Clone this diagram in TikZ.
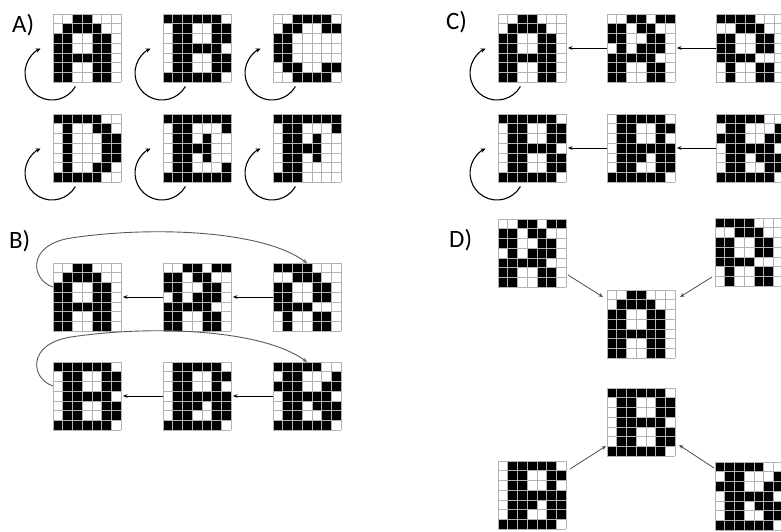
\documentclass[tikz,border=0pt]{standalone}
\usepackage{fontspec}
\setmainfont{Carlito}
\usetikzlibrary{arrows.meta}

% black cells of each glyph, one group per row (top to bottom)
\def\letterA{{2,3},{1,2,3,4},{0,1,4,5},{0,1,4,5},{0,1,2,3,4,5},{0,1,4,5},{0,1,4,5}}
\def\letterB{{0,1,2,3,4,5},{1,2,5,6},{1,2,5,6},{1,2,3,4,5},{1,2,5,6},{1,2,5,6},{0,1,2,3,4,5}}
\def\letterC{{2,3,4,5},{1,2,5,6},{0,1},{0,1},{0,1},{1,2,5,6},{2,3,4,5}}
\def\letterD{{0,1,2,3,4},{1,4,5},{1,5,6},{1,5,6},{1,5,6},{1,4,5},{0,1,2,3,4}}
\def\letterE{{0,1,2,3,4,5,6},{1,2,6},{1,2,4},{1,2,3,4},{1,2,4},{1,2,6},{0,1,2,3,4,5,6}}
\def\letterF{{0,1,2,3,4,5,6},{1,2,6},{1,2,4},{1,2,3,4},{1,2,4},{1,2},{0,1,2}}
\def\noisyA{{2,3,5,6},{0,1,3,4},{0,1,4,5},{1,3,4,5},{0,1,2,3,4},{0,1,4,5},{0,1,4,5}}
\def\noisyR{{0,1,2,3},{2,3,4},{0,1,4,5},{0,1,4,5},{0,1,2,3},{1,4,5},{1,4,5}}
\def\noisyB{{1,2,3,4,5},{1,2,5,6},{1,2,5},{1,2,3,4,5,6},{1,2,3,5,6},{1,2,5,6},{0,1,2,3,4,5}}
\def\noisyBB{{0,1,2,3,4},{1,2,6},{0,1,2,5,6},{1,2,3,4,5},{1,2,4,5,6},{1,2,5,6},{0,1,2,3,4,5}}

\newcommand{\pixw}{9.714}
% name, left, top, pattern
\newcommand{\pixgrid}[4]{%
  \node[glyph] (#1) at ({#2+34},{-#3-34}) {};
  \begin{scope}[shift={(#1.north west)}]
    \foreach \cols [count=\row from 0] in #4 {
      \foreach \col in \cols
        \fill (\col*\pixw,-\row*\pixw) rectangle ++(\pixw,-\pixw);
    }
    \foreach \i in {0,1,2,3,4,5,6,7} {
      \draw[gridline] (\i*\pixw,0) -- (\i*\pixw,-68);
      \draw[gridline] (0,-\i*\pixw) -- (68,-\i*\pixw);
    }
  \end{scope}
}
\newcommand{\selfloop}[1]{%
  \draw[selfarc] ([xshift=22.4bp,yshift=-4.5bp]#1.south west)
    arc[start angle=-30, end angle=-245, radius=27bp];
}

\begin{document}
\begin{tikzpicture}[
  x=1bp, y=1bp,
  glyph/.style={minimum size=68bp, inner sep=0pt, outer sep=0pt},
  gridline/.style={draw=black!30, line width=0.7bp},
  panel/.style={anchor=west, inner sep=0pt, font=\fontsize{25}{30}\selectfont},
  selfarc/.style={-{Stealth[length=5bp, width=4.5bp]}, line width=1.1bp},
  link/.style={-{Stealth[length=4.5bp, width=3.8bp]}, line width=0.8bp, shorten >=2bp},
  bigarc/.style={-{Stealth[length=4.5bp, width=3.8bp]}, line width=0.9bp, black!65},
  slant/.style={-{Stealth[length=4.5bp, width=3.8bp]}, line width=0.8bp, black!70},
]
  \useasboundingbox (0,0) rectangle (781,-532);

  % -- A) letters that recall themselves --
  \node[panel] (labA) at (12,-25) {A)};
  \pixgrid{aA}{53}{14}{\letterA}
  \pixgrid{aB}{163}{14}{\letterB}
  \pixgrid{aC}{273}{14}{\letterC}
  \pixgrid{aD}{53}{114}{\letterD}
  \pixgrid{aE}{163}{114}{\letterE}
  \pixgrid{aF}{273}{114}{\letterF}
  \foreach \g in {aA,aB,aC,aD,aE,aF} {
    \selfloop{\g}
  }

  % -- B) chains that close on the noisy input --
  \node[panel] (labB) at (9,-241) {B)};
  \pixgrid{bA}{53}{263}{\letterA}
  \pixgrid{bAn}{163}{263}{\noisyA}
  \pixgrid{bRn}{273}{263}{\noisyR}
  \pixgrid{bB}{53}{362}{\letterB}
  \pixgrid{bBn}{163}{362}{\noisyB}
  \pixgrid{bBr}{273}{362}{\noisyBB}

  \draw[link] (bAn.west) -- (bA.east);
  \draw[link] (bRn.west) -- (bAn.east);
  \draw[link] (bBn.west) -- (bB.east);
  \draw[link] (bBr.west) -- (bBn.east);
  \draw[bigarc] ([yshift=10bp]bA.west) .. controls +(-22,7) and +(-45,-7) .. ++(18,49)
    .. controls +(80,12) and +(-45,33) .. (bRn.north);
  \draw[bigarc] ([yshift=10bp]bB.west) .. controls +(-22,7) and +(-45,-7) .. ++(18,49)
    .. controls +(80,12) and +(-45,33) .. (bBr.north);

  % -- C) chains that end in a fixed point --
  \node[panel] (labC) at (446,-22) {C)};
  \pixgrid{cA}{498}{14}{\letterA}
  \pixgrid{cAn}{607}{14}{\noisyA}
  \pixgrid{cRn}{716}{14}{\noisyR}
  \pixgrid{cB}{498}{114}{\letterB}
  \pixgrid{cBn}{607}{114}{\noisyB}
  \pixgrid{cBr}{716}{114}{\noisyBB}
  \selfloop{cA}
  \selfloop{cB}

  \draw[link] (cAn.west) -- (cA.east);
  \draw[link] (cRn.west) -- (cAn.east);
  \draw[link] (cBn.west) -- (cB.east);
  \draw[link] (cBr.west) -- (cBn.east);

  % -- D) basins of attraction --
  \node[panel] (labD) at (449,-240) {D)};
  \pixgrid{dAn}{498}{219}{\noisyA}
  \pixgrid{dRn}{715}{218}{\noisyR}
  \pixgrid{dA}{607}{290}{\letterA}
  \pixgrid{dB}{607}{388}{\letterB}
  \pixgrid{dBn}{498}{461}{\noisyB}
  \pixgrid{dBr}{715}{462}{\noisyBB}

  \draw[slant] ([shift={(2,12)}]dAn.south east) -- ([shift={(-4,-7)}]dA.north west);
  \draw[slant] ([shift={(-3,9)}]dRn.south west) -- ([shift={(5,-7)}]dA.north east);
  \draw[slant] ([shift={(4,-8)}]dBn.north east) -- ([shift={(-1,10)}]dB.south west);
  \draw[slant] ([shift={(-1,-6)}]dBr.north west) -- ([shift={(4,11)}]dB.south east);
\end{tikzpicture}
\end{document}
